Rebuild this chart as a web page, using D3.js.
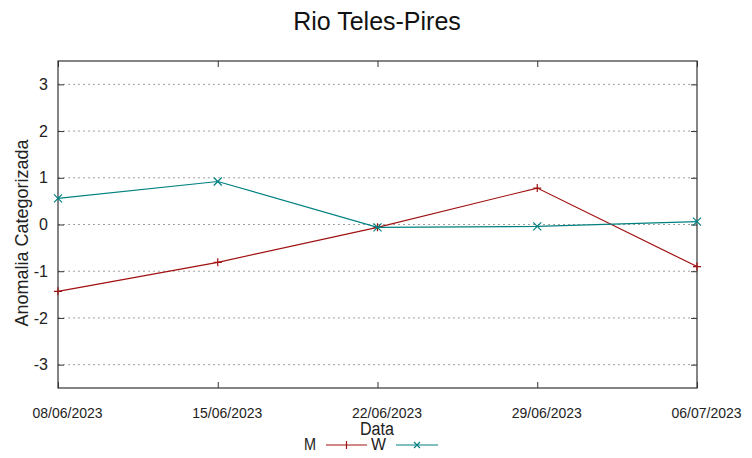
<!DOCTYPE html>
<html><head><meta charset="utf-8">
<script src="https://cdn.jsdelivr.net/npm/d3@7"></script>
<style>body{margin:0;background:#fff}svg{display:block}</style>
</head><body>
<svg id="c" width="752" height="458"></svg>
<script>
const dates = ["08/06/2023","15/06/2023","22/06/2023","29/06/2023","06/07/2023"];
const seriesM = [-1.43, -0.81, -0.06, 0.78, -0.90];
const seriesW = [0.56, 0.92, -0.06, -0.04, 0.06];
const yTicks = [-3,-2,-1,0,1,2,3];
const seriesNames = ["M","W"];
const colors = ["#a01010","#008080"];

const svg = d3.select("#c");
const L=58, R=697, T=61, B=388;
const FONT = "Liberation Sans, Arial, sans-serif";
const x = d3.scalePoint().domain(dates).range([L,R]);
const y = d3.scaleLinear().domain([-3.5,3.5]).range([B,T]);

// grid
svg.append("g").selectAll("line").data(yTicks).join("line")
  .attr("x1",L).attr("x2",R).attr("y1",d=>y(d)).attr("y2",d=>y(d))
  .attr("stroke","#a0a0a0").attr("stroke-width",1).attr("stroke-dasharray","2,3");

// axes
const ya = svg.append("g").attr("transform",`translate(${L},0)`)
  .call(d3.axisLeft(y).tickValues(yTicks).tickSize(-6).tickPadding(10).tickFormat(d=>String(d)));
ya.select(".domain").remove();
ya.selectAll("line").attr("stroke","#333");
ya.selectAll("text").attr("font-family",FONT).attr("font-size",16).attr("fill","#222");
const yr = svg.append("g").attr("transform",`translate(${R},0)`)
  .call(d3.axisRight(y).tickValues(yTicks).tickSize(-6).tickFormat(""));
yr.select(".domain").remove(); yr.selectAll("line").attr("stroke","#333");

const xa = svg.append("g").attr("transform",`translate(0,${B})`)
  .call(d3.axisBottom(x).tickSize(-6).tickPadding(19));
xa.select(".domain").remove();
xa.selectAll("line").attr("stroke","#333");
xa.selectAll("text").attr("font-family",FONT).attr("font-size",15).attr("fill","#222")
  .attr("x",9).attr("textLength",70).attr("lengthAdjust","spacingAndGlyphs");
const xt = svg.append("g").attr("transform",`translate(0,${T})`)
  .call(d3.axisTop(x).tickSize(-6).tickFormat(""));
xt.select(".domain").remove(); xt.selectAll("line").attr("stroke","#333");

svg.append("rect").attr("x",L).attr("y",T).attr("width",R-L).attr("height",B-T)
  .attr("fill","none").attr("stroke","#333").attr("stroke-width",1.2);

// lines
const line = d3.line().x((d,i)=>x(dates[i])).y(d=>y(d));
const data = [seriesM, seriesW];
data.forEach((s,k)=>{
  svg.append("path").datum(s).attr("d",line).attr("fill","none")
    .attr("stroke",colors[k]).attr("stroke-width",1.2);
  const g = svg.append("g");
  s.forEach((v,i)=>{
    const cx=x(dates[i]), cy=y(v), r=4;
    if(k===0){
      g.append("path").attr("d",`M${cx-r},${cy}H${cx+r}M${cx},${cy-r}V${cy+r}`).attr("stroke",colors[k]).attr("stroke-width",1.2);
    } else {
      g.append("path").attr("d",`M${cx-r},${cy-r}L${cx+r},${cy+r}M${cx-r},${cy+r}L${cx+r},${cy-r}`).attr("stroke",colors[k]).attr("stroke-width",1.2);
    }
  });
});

// title, labels
svg.append("text").attr("x",377).attr("y",30).attr("text-anchor","middle")
  .attr("font-family",FONT).attr("font-size",25).attr("fill","#111").text("Rio Teles-Pires");
svg.append("text").attr("x",377).attr("y",435).attr("text-anchor","middle")
  .attr("font-family",FONT).attr("font-size",18).attr("fill","#222")
  .attr("textLength",34).attr("lengthAdjust","spacingAndGlyphs").text("Data");
svg.append("text").attr("transform","translate(28,233) rotate(-90)").attr("text-anchor","middle")
  .attr("font-family",FONT).attr("font-size",18).attr("fill","#222").text("Anomalia Categorizada");

// legend
const lg = svg.append("g");
const legTextX = [304, 371], legLine = [[326,367],[396,438]];
seriesNames.forEach((n,k)=>{
  const ly=445;
  lg.append("text").attr("x",legTextX[k]).attr("y",ly+5)
    .attr("font-family",FONT).attr("font-size",16).attr("fill","#222")
    .attr("textLength",k===0?12:15).attr("lengthAdjust","spacingAndGlyphs").text(n);
  const [a,b] = legLine[k];
  lg.append("line").attr("x1",a).attr("x2",b).attr("y1",ly).attr("y2",ly).attr("stroke",colors[k]).attr("stroke-width",1.2);
  const cx=(a+b)/2, r=4;
  if(k===0) lg.append("path").attr("d",`M${cx},${ly-r}V${ly+r}`).attr("stroke",colors[k]).attr("stroke-width",1.2);
  else lg.append("path").attr("d",`M${cx-3},${ly-3}L${cx+3},${ly+3}M${cx-3},${ly+3}L${cx+3},${ly-3}`).attr("stroke",colors[k]).attr("stroke-width",1.2);
});
</script>
</body></html>
